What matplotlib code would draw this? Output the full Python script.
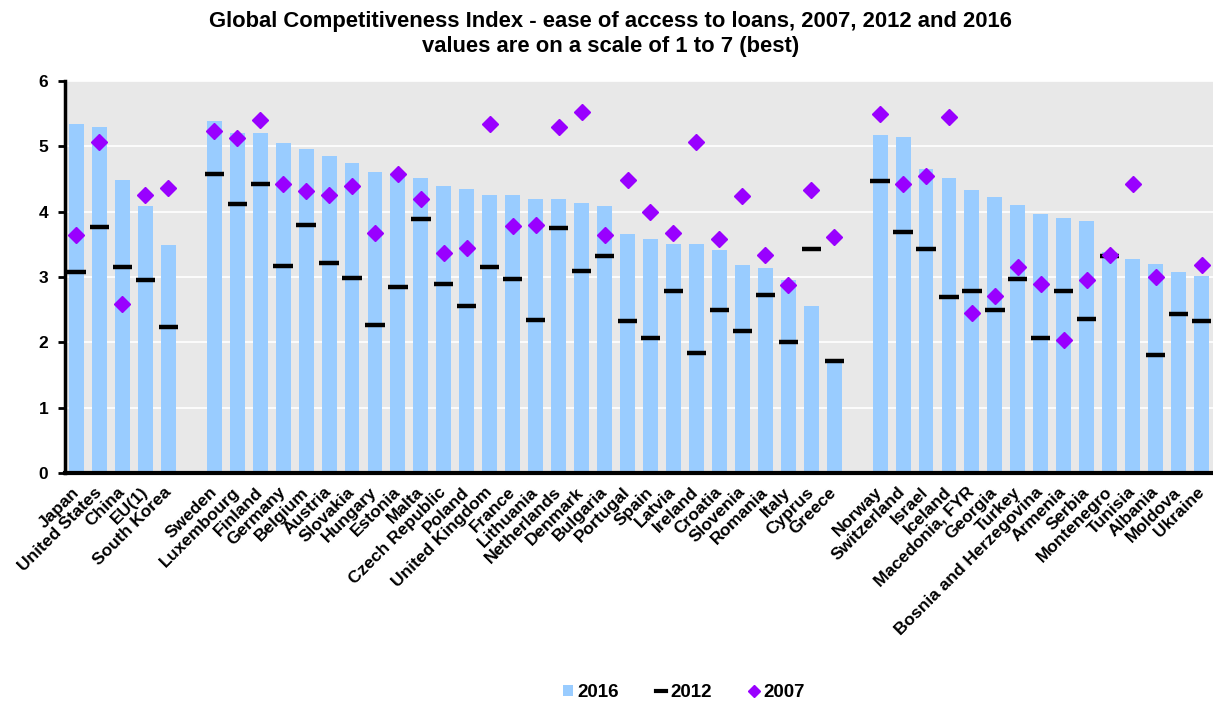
import matplotlib
matplotlib.use("Agg")
import matplotlib.pyplot as plt
import numpy as np
from matplotlib.lines import Line2D
from matplotlib.patches import Patch

plt.rcParams['font.family'] = ['Liberation Sans', 'DejaVu Sans']
plt.rcParams['font.weight'] = 'bold'

# '' entries are the gaps between groups
countries = ["Japan", "United States", "China", "EU(1)", "South Korea", "",
             "Sweden", "Luxembourg", "Finland", "Germany", "Belgium", "Austria",
             "Slovakia", "Hungary", "Estonia", "Malta", "Czech Republic", "Poland",
             "United Kingdom", "France", "Lithuania", "Netherlands", "Denmark",
             "Bulgaria", "Portugal", "Spain", "Latvia", "Ireland", "Croatia",
             "Slovenia", "Romania", "Italy", "Cyprus", "Greece", "",
             "Norway", "Switzerland", "Israel", "Iceland", "Macedonia, FYR",
             "Georgia", "Turkey", "Bosnia and Herzegovina", "Armenia", "Serbia",
             "Montenegro", "Tunisia", "Albania", "Moldova", "Ukraine"]
nan = np.nan
v2016 = [5.34, 5.30, 4.48, 4.09, 3.49, nan,
         5.38, 5.21, 5.20, 5.05, 4.96, 4.85, 4.75, 4.60, 4.56, 4.51, 4.40, 4.34,
         4.26, 4.25, 4.20, 4.19, 4.13, 4.09, 3.66, 3.58, 3.50, 3.50, 3.41, 3.18,
         3.14, 2.96, 2.55, 1.70, nan,
         5.18, 5.15, 4.66, 4.51, 4.33, 4.23, 4.10, 3.97, 3.91, 3.85, 3.38, 3.28,
         3.20, 3.07, 3.02]
v2012 = [3.07, 3.77, 3.15, 2.96, 2.24, nan,
         4.58, 4.12, 4.43, 3.17, 3.80, 3.22, 2.99, 2.27, 2.85, 3.89, 2.90, 2.56,
         3.16, 2.97, 2.35, 3.75, 3.09, 3.32, 2.32, 2.06, 2.78, 1.84, 2.50, 2.18,
         2.72, 2.00, 3.43, 1.72, nan,
         4.47, 3.69, 3.43, 2.70, 2.79, 2.50, 2.97, 2.06, 2.79, 2.36, 3.32, nan,
         1.80, 2.43, 2.32]
v2007 = [3.65, 5.06, 2.58, 4.25, 4.36, nan,
         5.24, 5.12, 5.41, 4.42, 4.31, 4.26, 4.40, 3.67, 4.58, 4.19, 3.36, 3.44,
         5.34, 3.78, 3.79, 5.30, 5.52, 3.64, 4.48, 4.00, 3.67, 5.06, 3.58, 4.24,
         3.34, 2.88, 4.33, 3.61, nan,
         5.50, 4.43, 4.54, 5.45, 2.45, 2.71, 3.15, 2.89, 2.04, 2.95, 3.34, 4.42,
         3.00, nan, 3.18]

bar_color = '#99CCFF'
dia_color = '#9900FF'

fig = plt.figure(figsize=(12.13, 7.04), dpi=100)
ax = fig.add_axes([0.0536, 0.328, 0.9464, 0.557])
ax.set_facecolor('#E8E8E8')

x = np.arange(len(countries))
ax.bar(x, v2016, width=0.65, color=bar_color, zorder=2)
ax.hlines(v2012, x - 0.42, x + 0.42, colors='black', linewidth=3.2, zorder=3)
ax.plot(x, v2007, linestyle='none', marker='D', markersize=8.5,
        color=dia_color, markeredgecolor=dia_color, zorder=4)

ax.set_xlim(-0.5, len(countries) - 0.5)
ax.set_ylim(0, 6)
ax.set_yticks(range(7))
ax.set_yticklabels([str(i) for i in range(7)], fontsize=12.5, fontweight='bold')
ax.yaxis.grid(True, color='white', linewidth=1.2, zorder=1)
ax.set_axisbelow(True)

for s in ['top', 'right']:
    ax.spines[s].set_visible(False)
ax.spines['left'].set_linewidth(2.5)
ax.spines['bottom'].set_linewidth(3)
ax.tick_params(axis='y', length=5, width=2, direction='out', pad=7)
ax.tick_params(axis='x', length=0, pad=12)

ax.set_xticks(x)
ax.set_xticklabels(countries, rotation=45, ha='right', va='center',
                   rotation_mode='anchor', fontsize=12.5, fontweight='bold')

fig.text(0.503, 0.970, "Global Competitiveness Index - ease of access to loans, 2007, 2012 and 2016",
         ha='center', va='center', fontsize=15.8, fontweight='bold')
fig.text(0.503, 0.934, "values are on a scale of 1 to 7 (best)",
         ha='center', va='center', fontsize=15.8, fontweight='bold')

handles = [Patch(facecolor=bar_color, edgecolor='none'),
           Line2D([], [], color='black', linewidth=3),
           Line2D([], [], linestyle='none', marker='D', markersize=6.5, color=dia_color)]
fig.legend(handles, ['2016', '2012', '2007'], loc='center', bbox_to_anchor=(0.564, 0.016),
           ncol=3, frameon=False, prop={'weight': 'bold', 'size': 13.5},
           handlelength=0.5, handleheight=0.5, handletextpad=0.25, columnspacing=2.0)

fig.savefig('out.png', dpi=100)
